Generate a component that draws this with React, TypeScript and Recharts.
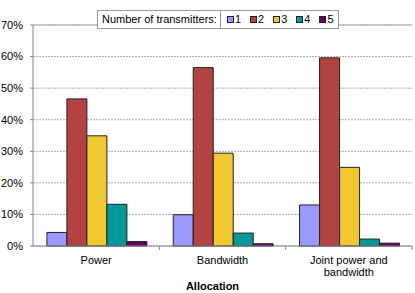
import React from 'react';
import { BarChart, Bar, XAxis, YAxis, CartesianGrid, Legend, Label, ReferenceLine } from 'recharts';

const categories = ['Power', 'Bandwidth', 'Joint power and bandwidth'];
const tx1 = [0.043, 0.099, 0.13];
const tx2 = [0.466, 0.565, 0.596];
const tx3 = [0.349, 0.294, 0.249];
const tx4 = [0.132, 0.041, 0.022];
const tx5 = [0.014, 0.007, 0.009];
const seriesNames = ['1', '2', '3', '4', '5'];
const seriesColors = ['#9999FF', '#B34341', '#F0C830', '#009999', '#660066'];
const yTicks = [0, 0.1, 0.2, 0.3, 0.4, 0.5, 0.6, 0.7];

const seriesValues = [tx1, tx2, tx3, tx4, tx5];
const data = categories.map((c, i) => {
  const row: any = { name: c };
  seriesNames.forEach((s, k) => {
    row['s' + s] = seriesValues[k][i];
  });
  return row;
});

const FONT = '"Liberation Sans", Arial, sans-serif';

function wrap(text: string, max: number): string[] {
  const words = text.split(' ');
  const lines: string[] = [];
  let cur = '';
  words.forEach((w) => {
    const next = cur ? cur + ' ' + w : w;
    if (next.length > max && cur) {
      lines.push(cur);
      cur = w;
    } else {
      cur = next;
    }
  });
  if (cur) lines.push(cur);
  return lines;
}

const XTick = (props: any) => {
  const { x, y, payload } = props;
  const axisY = y - 10;
  const half = payload && payload.offset ? payload.offset : 63.2;
  const lines = wrap(String(payload.value), 16);
  return (
    <g>
      <line x1={x + half} y1={axisY} x2={x + half} y2={axisY + 4} stroke="#888" />
      <text x={x} y={y + 8} textAnchor="middle" fontFamily={FONT} fontSize={11} fill="#000">
        {lines.map((l, i) => (
          <tspan key={i} x={x} dy={i === 0 ? 0 : 12}>
            {l}
          </tspan>
        ))}
      </text>
    </g>
  );
};

const LegendContent = (props: any) => {
  const payload = props.payload || [];
  return (
    <div
      style={{
        display: 'flex',
        border: '1px solid #999',
        background: '#fff',
        fontFamily: FONT,
        fontSize: 11,
        lineHeight: '17px',
        color: '#000',
      }}
    >
      <div style={{ padding: '0 3px 0 4px', borderRight: '1px solid #999', whiteSpace: 'nowrap' }}>
        Number of transmitters:
      </div>
      <div style={{ display: 'flex', padding: '0 4px 0 6px' }}>
        {payload.map((p: any, i: number) => (
          <div key={i} style={{ display: 'flex', alignItems: 'center', marginRight: i === payload.length - 1 ? 0 : 9 }}>
            <span
              style={{
                display: 'inline-block',
                width: 5,
                height: 5,
                background: p.color,
                border: '1px solid #222',
                marginRight: 1,
              }}
            />
            <span>{p.value}</span>
          </div>
        ))}
      </div>
    </div>
  );
};

export default function App() {
  return (
    <div style={{ position: 'absolute', left: 0, top: 0, width: 415, height: 293, background: '#fff' }}>
      <BarChart
        width={415}
        height={293}
        data={data}
        margin={{ top: 6, right: 3, left: 0, bottom: 0 }}
        barCategoryGap="11%"
        barGap={0}
      >
        <CartesianGrid vertical={false} stroke="#aaa" strokeDasharray="2 1" yAxisId="l" />
        <YAxis
          yAxisId="l"
          domain={[0, 0.7]}
          ticks={yTicks}
          width={33}
          tickSize={3}
          tickMargin={7}
          tickFormatter={(v: number) => `${Math.round(v * 100)}%`}
          tick={{ fontFamily: FONT, fontSize: 11, fill: '#000' }}
          axisLine={{ stroke: '#888' }}
          tickLine={{ stroke: '#888' }}
        />
        <YAxis
          yAxisId="r"
          orientation="right"
          domain={[0, 0.7]}
          width={0}
          tick={false}
          tickLine={false}
          axisLine={{ stroke: '#aaa' }}
        />
        <XAxis
          dataKey="name"
          height={47}
          interval={0}
          tickLine={false}
          tickSize={4}
          tickMargin={6}
          axisLine={{ stroke: '#888' }}
          tick={<XTick />}
        >
          <Label
            content={(p: any) => {
              const vb = p.viewBox || { x: 33, width: 379, y: 246, height: 47 };
              return (
                <text
                  x={vb.x + vb.width / 2 - 10}
                  y={vb.y + vb.height - 3}
                  textAnchor="middle"
                  fontFamily={FONT}
                  fontSize={11}
                  fontWeight="bold"
                  fill="#000"
                >
                  Allocation
                </text>
              );
            }}
          />
        </XAxis>
        <ReferenceLine yAxisId="l" y={0.7} stroke="#aaa" />
        <Legend
          verticalAlign="top"
          content={<LegendContent />}
          wrapperStyle={{ top: 10, left: 97, width: 'auto' }}
        />
        {seriesNames.map((s, k) => (
          <Bar
            key={s}
            yAxisId="l"
            dataKey={'s' + s}
            name={s}
            fill={seriesColors[k]}
            stroke="#222"
            strokeWidth={1}
            isAnimationActive={false}
          />
        ))}
      </BarChart>
    </div>
  );
}
